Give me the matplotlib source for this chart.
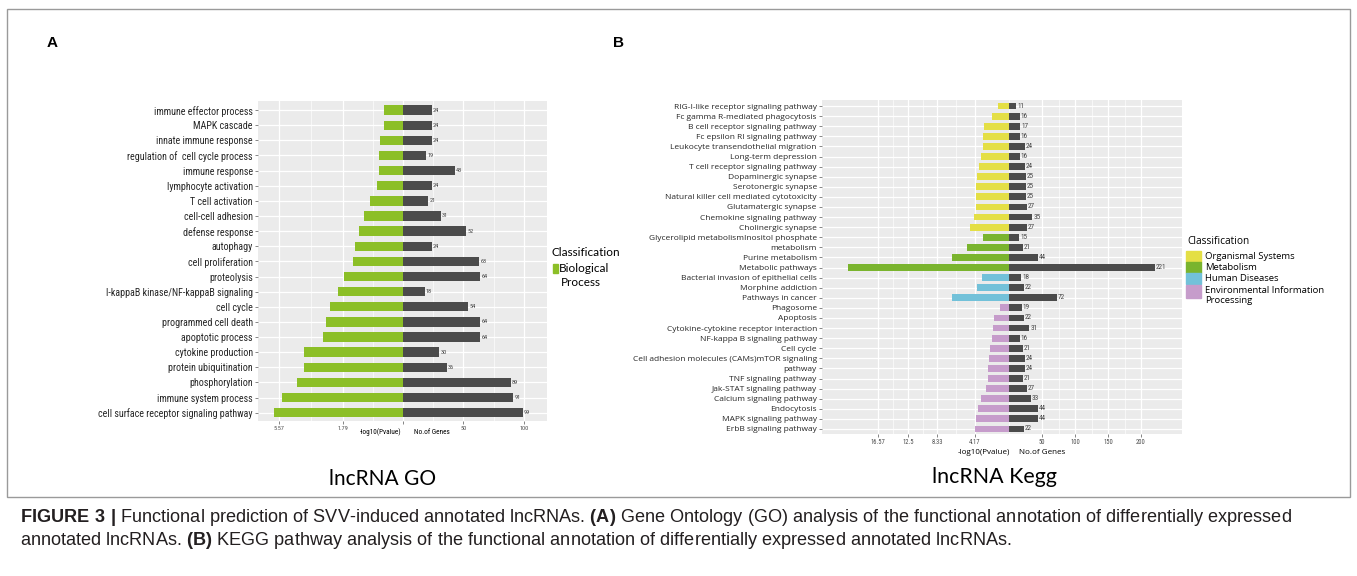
import numpy as np
import matplotlib
matplotlib.use("Agg")
import matplotlib.pyplot as plt
from matplotlib import font_manager as fm
from matplotlib.patches import Rectangle

W, H = 1357, 576

# ---- panel A: GO terms ----
go_terms = ["immune effector process", "MAPK cascade", "innate immune response",
            "regulation of  cell cycle process", "immune response", "lymphocyte activation",
            "T cell activation", "cell-cell adhesion", "defense response", "autophagy",
            "cell proliferation", "proteolysis", "I-kappaB kinase/NF-kappaB signaling",
            "cell cycle", "programmed cell death", "apoptotic process", "cytokine production",
            "protein ubiquitination", "phosphorylation", "immune system process",
            "cell surface receptor signaling pathway"]
# left half bar length (-log10 Pvalue, in the panel's display units)
go_logp = [15.7, 15.7, 19.0, 19.8, 19.8, 21.5, 27.3, 32.2, 36.4, 39.7, 41.3,
           48.8, 53.7, 60.3, 63.6, 66.1, 81.8, 81.8, 87.6, 100.0, 106.6]
go_genes = [24, 24, 24, 19, 43, 24, 21, 31, 52, 24, 63, 64, 18, 54, 64, 64, 30, 36, 89, 91, 99]
go_pticks = [-102.5, -49.6, 0]
go_plabels = ["5.57", "1.79", ""]
go_gticks = [50, 100]

# ---- panel B: KEGG pathways ----
kegg_terms = ["RIG-I-like receptor signaling pathway", "Fc gamma R-mediated phagocytosis",
              "B cell receptor signaling pathway", "Fc epsilon RI signaling pathway",
              "Leukocyte transendothelial migration", "Long-term depression",
              "T cell receptor signaling pathway", "Dopaminergic synapse", "Serotonergic synapse",
              "Natural killer cell mediated cytotoxicity", "Glutamatergic synapse",
              "Chemokine signaling pathway", "Cholinergic synapse",
              "Glycerolipid metabolismInositol phosphate", "metabolism", "Purine metabolism",
              "Metabolic pathways", "Bacterial invasion of epithelial cells", "Morphine addiction",
              "Pathways in cancer", "Phagosome", "Apoptosis",
              "Cytokine-cytokine receptor interaction", "NF-kappa B signaling pathway",
              "Cell cycle", "Cell adhesion molecules (CAMs)mTOR signaling", "pathway",
              "TNF signaling pathway", "Jak-STAT signaling pathway", "Calcium signaling pathway",
              "Endocytosis", "MAPK signaling pathway", "ErbB signaling pathway"]
kegg_logp = [16.7, 25.8, 37.9, 39.4, 39.4, 42.4, 45.5, 48.5, 50.0, 50.0, 50.0, 53.0, 59.1,
             39.4, 63.6, 86.4, 244.0, 40.9, 48.5, 86.4, 13.6, 22.7, 24.2, 25.8, 28.8,
             30.3, 31.8, 31.8, 34.8, 42.4, 47.0, 50.0, 51.5]
kegg_genes = [11, 16, 17, 16, 24, 16, 24, 25, 25, 25, 27, 35, 27, 15, 21, 44, 221, 18, 22, 72,
              19, 22, 31, 16, 21, 24, 24, 21, 27, 33, 44, 44, 22]
kegg_class = (["Organismal Systems"] * 13 + ["Metabolism"] * 4 + ["Human Diseases"] * 3
              + ["Environmental Information Processing"] * 13)
kegg_pticks = [-198.5, -153, -109, -51.5]
kegg_plabels = ["16.57", "12.5", "8.33", "4.17"]
kegg_gticks = [50, 100, 150, 200]

class_colors = {"Organismal Systems": "#e4df45", "Metabolism": "#7ab42e",
                "Human Diseases": "#72c1d9", "Environmental Information Processing": "#c69ccb"}
go_color = "#8cbf27"
dark = "#4b4b4b"


def pick(names, fallback="DejaVu Sans"):
    for n in names:
        try:
            fm.findfont(fm.FontProperties(family=n), fallback_to_default=False)
            return n
        except Exception:
            pass
    return fallback


narrow = pick(["Liberation Sans Narrow", "Roboto Condensed", "Open Sans Condensed", "Lato"])
sans = pick(["Open Sans", "Lato", "DejaVu Sans"])
calib = pick(["Lato", "Open Sans"])
arial = pick(["Liberation Sans", "DejaVu Sans"])

plt.rcParams["mathtext.fontset"] = "custom"
plt.rcParams["mathtext.rm"] = arial
plt.rcParams["mathtext.bf"] = arial + ":bold"

fig = plt.figure(figsize=(W / 100, H / 100), dpi=100)


def px_axes(x0, y0, x1, y1):
    return fig.add_axes([x0 / W, 1 - y1 / H, (x1 - x0) / W, (y1 - y0) / H])


def ftext(x, y, s, **kw):
    return fig.text(x / W, 1 - y / H, s, **kw)


def panel(ax, terms, logp, genes, colors, xlim, ylim, pticks, plabels, gticks,
          lab_font, lab_size, num_size, tick_size, bar_h):
    y = np.arange(len(terms))
    ax.set_facecolor("#ebebeb")
    ax.barh(y, -np.asarray(logp), color=colors, height=bar_h, zorder=3)
    ax.barh(y, genes, color=dark, height=bar_h, zorder=3)
    for yi, g in zip(y, genes):
        ax.annotate(str(g), (g, yi), xytext=(0.8, 0), textcoords="offset points",
                    va="center", ha="left", fontsize=num_size, color="#444444",
                    family=narrow, zorder=4)
    ax.set_xlim(*xlim)
    ax.set_ylim(*ylim)
    ax.set_yticks(y)
    ax.set_yticklabels(terms, fontsize=lab_size, family=lab_font, color="#262626")
    ticks = list(pticks) + list(gticks)
    ax.set_xticks(ticks)
    ax.set_xticklabels(list(plabels) + [str(t) for t in gticks], fontsize=tick_size,
                       family=narrow, color="#4d4d4d")
    mids = [(a + b) / 2 for a, b in zip(ticks[:-1], ticks[1:])]
    ax.set_xticks(mids, minor=True)
    ax.grid(True, which="major", color="white", lw=0.9, zorder=0)
    ax.grid(True, which="minor", axis="x", color="white", lw=0.45, zorder=0)
    ax.tick_params(which="major", length=2.2, width=0.5, color="#555555", pad=1.5)
    ax.tick_params(which="minor", length=0)
    for s in ax.spines.values():
        s.set_visible(False)
    ax.set_axisbelow(True)


# panel A
axA = px_axes(258, 101, 547, 421)
panel(axA, go_terms, go_logp, go_genes, go_color, (-119.8, 119), (20.55, -0.6),
      go_pticks, go_plabels, go_gticks, narrow, 7.2, 4.5, 4.5, 0.62)
ftext(381, 432, "-log10(Pvalue)", fontsize=5.2, family=narrow, ha="center", va="center")
ftext(432, 432, "No.of Genes", fontsize=5.2, family=narrow, ha="center", va="center")
ftext(383, 479, "lncRNA GO", fontsize=15, family=calib, ha="center", va="center")
ftext(552, 253, "Classification", fontsize=8.5, family=calib, ha="left", va="center")
fig.patches.append(Rectangle((553 / W, 1 - 273 / H), 5 / W, 9 / H,
                             transform=fig.transFigure, color=go_color))
ftext(559, 268, "Biological", fontsize=8.5, family=calib, ha="left", va="center")
ftext(561, 283, "Process", fontsize=8.5, family=calib, ha="left", va="center")

# panel B
axB = px_axes(822, 100, 1182, 434)
kcols = [class_colors[c] for c in kegg_class]
panel(axB, kegg_terms, kegg_logp, kegg_genes, kcols, (-283.3, 262), (32.5, -0.6),
      kegg_pticks, kegg_plabels, kegg_gticks, sans, 6.0, 5.2, 4.8, 0.68)
ftext(984, 452, "-log10(Pvalue)", fontsize=5.8, family=sans, ha="center", va="center")
ftext(1042, 452, "No.of Genes", fontsize=5.8, family=sans, ha="center", va="center")
ftext(995, 477, "lncRNA Kegg", fontsize=15.4, family=calib, ha="center", va="center")
ftext(1187, 241, "Classification", fontsize=7.3, family=sans, ha="left", va="center")
leg_rows = [("Organismal Systems", 251, 11, ["Organismal Systems"]),
            ("Metabolism", 262, 11, ["Metabolism"]),
            ("Human Diseases", 273, 11, ["Human Diseases"]),
            ("Environmental Information Processing", 285, 13, ["Environmental Information", "Processing"])]
for name, top, h, lines in leg_rows:
    fig.patches.append(Rectangle((1186 / W, 1 - (top + h) / H), 15 / W, h / H,
                                 transform=fig.transFigure, color=class_colors[name]))
    for i, ln in enumerate(lines):
        ftext(1205, top + 5.5 + i * 10, ln, fontsize=6.8, family=sans, ha="left", va="center")

# panel letters and frame
ftext(52, 43, "A", fontsize=11, weight="bold", family=arial, ha="center", va="center")
ftext(619, 43, "B", fontsize=11, weight="bold", family=arial, ha="center", va="center")
fig.patches.append(Rectangle((7 / W, 1 - 497 / H), (1350 - 7) / W, (497 - 9) / H,
                             transform=fig.transFigure, fill=False, ec="#9a9a9a", lw=1.0))

# caption
line1 = (r"$\mathbf{FIGURE\ 3\ |}$ Functional prediction of SVV-induced annotated lncRNAs. "
         r"$\mathbf{(A)}$ Gene Ontology (GO) analysis of the functional annotation of differentially expressed")
line2 = (r"annotated lncRNAs. $\mathbf{(B)}$ KEGG pathway analysis of the functional annotation "
         r"of differentially expressed annotated lncRNAs.")
t1 = ftext(20, 522, line1, fontsize=10, family=arial, ha="left", va="baseline", color="#231f20")
r = fig.canvas.get_renderer()
w1 = t1.get_window_extent(r).width
cap_size = 10 * 1270 / w1
t1.set_fontsize(cap_size)
ftext(20, 545, line2, fontsize=cap_size, family=arial, ha="left", va="baseline", color="#231f20")

fig.savefig("out.png", dpi=100)
